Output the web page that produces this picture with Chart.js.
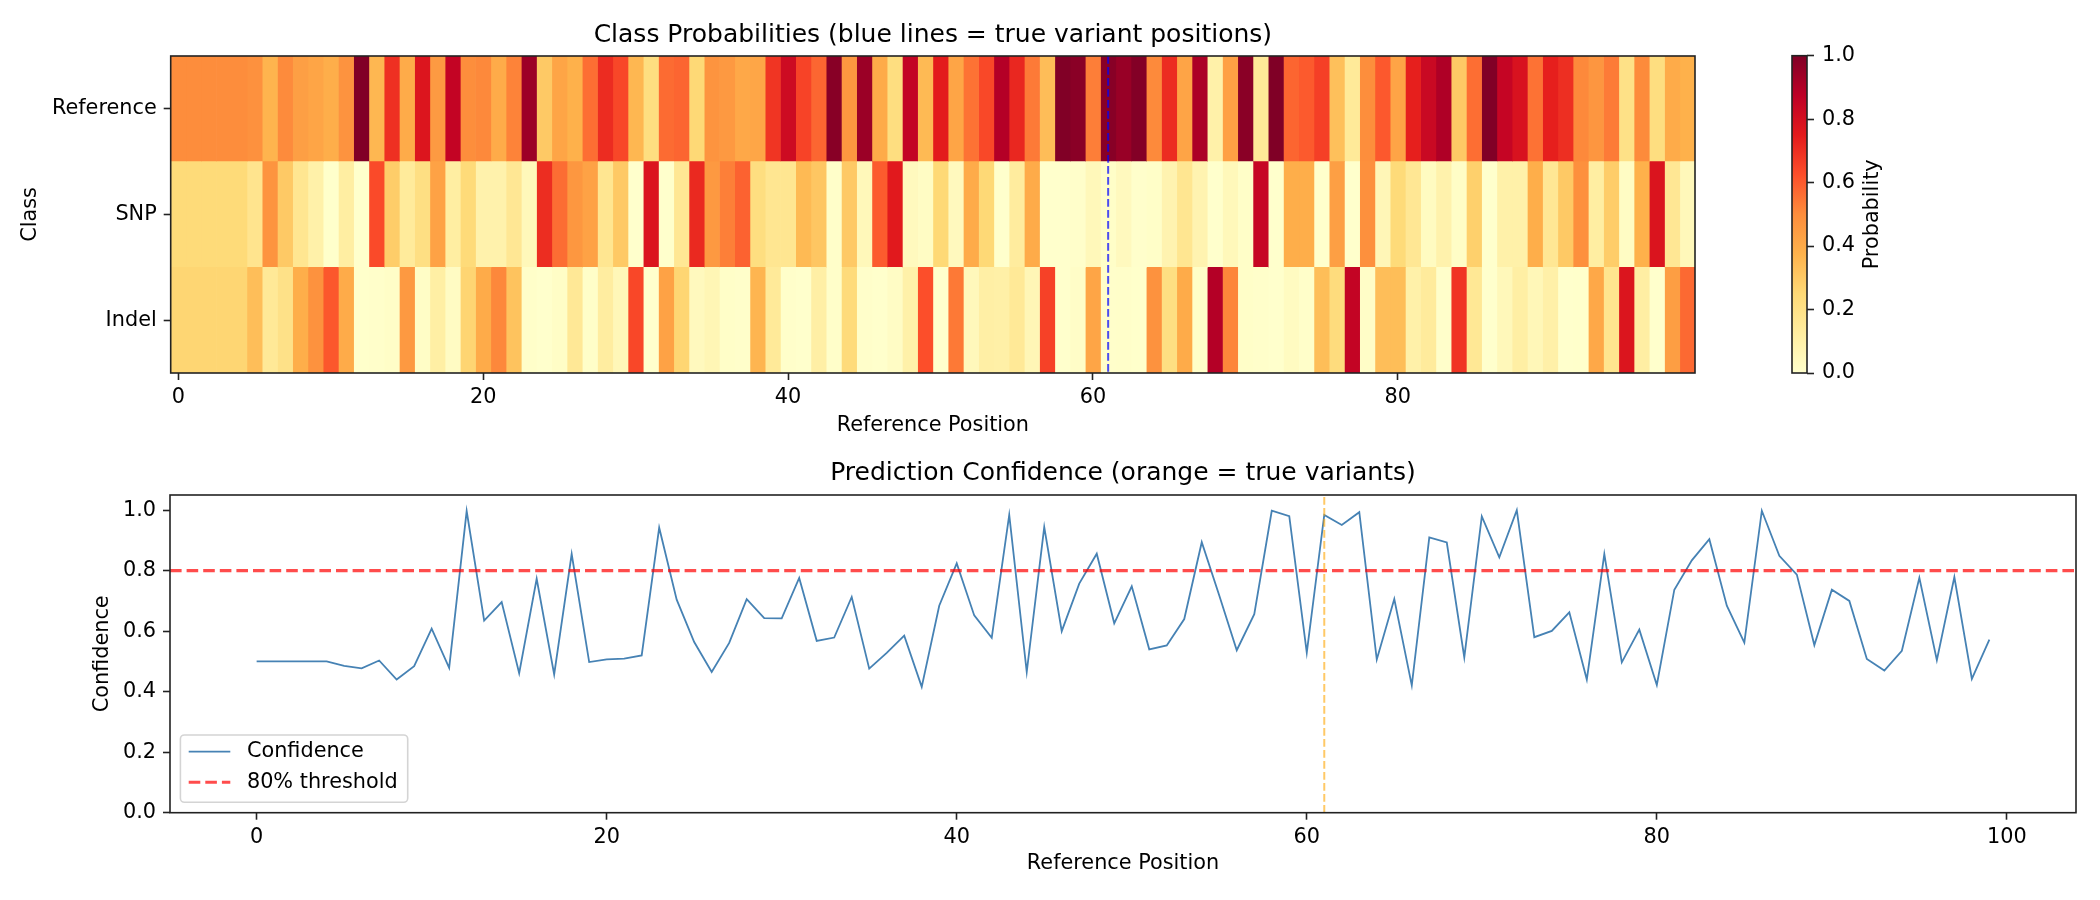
<!DOCTYPE html>
<html>
<head>
<meta charset="utf-8">
<script src="https://cdn.jsdelivr.net/npm/chart.js@4.4.0/dist/chart.umd.min.js"></script>
<style>
  body { margin: 0; background: #fff; }
  #wrap { position: relative; width: 2100px; height: 900px; }
  canvas { position: absolute; }
</style>
</head>
<body>
<div id="wrap">
  <canvas id="heat" width="1700" height="450" style="left:0;top:0"></canvas>
  <canvas id="cbar" width="300" height="450" style="left:1700px;top:0"></canvas>
  <canvas id="conf" width="2100" height="450" style="left:0;top:450px"></canvas>
</div>
<script>
// class probabilities per position
const classes = ['Reference', 'SNP', 'Indel'];

const refProb = [
  0.50, 0.50, 0.50, 0.50, 0.50, 0.485, 0.37, 0.503, 0.44, 0.42,
  0.39, 0.479, 0.997, 0.36, 0.696, 0.40, 0.773, 0.457, 0.855, 0.498,
  0.507, 0.40, 0.52, 0.942, 0.30, 0.42, 0.38, 0.561, 0.706, 0.643,
  0.36, 0.22, 0.568, 0.579, 0.25, 0.476, 0.46, 0.41, 0.416, 0.684,
  0.824, 0.652, 0.578, 0.984, 0.465, 0.944, 0.40, 0.22, 0.856, 0.35,
  0.748, 0.42, 0.553, 0.64, 0.894, 0.718, 0.537, 0.34, 0.998, 0.98,
  0.529, 0.984, 0.951, 0.993, 0.506, 0.706, 0.421, 0.91, 0.10, 0.437,
  0.979, 0.15, 1.0, 0.58, 0.601, 0.662, 0.33, 0.145, 0.497, 0.605,
  0.422, 0.737, 0.834, 0.904, 0.30, 0.562, 0.998, 0.849, 0.787, 0.554,
  0.737, 0.70, 0.508, 0.47, 0.535, 0.20, 0.504, 0.22, 0.40, 0.38
];
const snpProb = [
  0.24, 0.24, 0.24, 0.24, 0.24, 0.18, 0.477, 0.30, 0.17, 0.10,
  0.002, 0.12, 0.001, 0.635, 0.29, 0.14, 0.21, 0.43, 0.12, 0.24,
  0.09, 0.09, 0.16, 0.05, 0.704, 0.564, 0.465, 0.43, 0.17, 0.30,
  0.0, 0.776, 0.0, 0.16, 0.713, 0.46, 0.528, 0.585, 0.22, 0.17,
  0.17, 0.35, 0.31, 0.008, 0.30, 0.05, 0.60, 0.757, 0.04, 0.024,
  0.25, 0.04, 0.40, 0.25, 0.0, 0.13, 0.40, 0.0, 0.001, 0.005,
  0.05, 0.01, 0.04, 0.004, 0.01, 0.08, 0.17, 0.08, 0.0, 0.05,
  0.01, 0.844, 0.0, 0.39, 0.39, 0.0, 0.44, 0.0, 0.49, 0.06,
  0.24, 0.16, 0.03, 0.09, 0.016, 0.28, 0.001, 0.10, 0.10, 0.39,
  0.16, 0.30, 0.49, 0.12, 0.29, 0.024, 0.38, 0.779, 0.16, 0.05
];
const indelProb = [
  0.26, 0.26, 0.26, 0.26, 0.26, 0.335, 0.153, 0.197, 0.39, 0.484,
  0.608, 0.40, 0.002, 0.005, 0.014, 0.461, 0.017, 0.113, 0.025, 0.262,
  0.40, 0.509, 0.32, 0.008, 0.0, 0.016, 0.155, 0.01, 0.124, 0.057,
  0.642, 0.0, 0.43, 0.26, 0.04, 0.064, 0.01, 0.005, 0.364, 0.146,
  0.006, 0.0, 0.11, 0.008, 0.235, 0.006, 0.0, 0.02, 0.10, 0.626,
  0.0, 0.54, 0.047, 0.11, 0.106, 0.152, 0.063, 0.656, 0.001, 0.015,
  0.42, 0.006, 0.009, 0.003, 0.484, 0.214, 0.40, 0.01, 0.893, 0.513,
  0.01, 0.006, 0.0, 0.03, 0.009, 0.338, 0.23, 0.855, 0.013, 0.335,
  0.338, 0.10, 0.136, 0.006, 0.684, 0.158, 0.001, 0.05, 0.113, 0.056,
  0.103, 0.0, 0.002, 0.41, 0.175, 0.776, 0.116, 0.001, 0.442, 0.572
];

// prediction confidence
const confidence = [
  0.50, 0.50, 0.50, 0.50, 0.50, 0.485, 0.477, 0.503, 0.44, 0.484,
  0.608, 0.479, 0.997, 0.635, 0.696, 0.461, 0.773, 0.457, 0.855, 0.498,
  0.507, 0.509, 0.52, 0.942, 0.704, 0.564, 0.465, 0.561, 0.706, 0.643,
  0.642, 0.776, 0.568, 0.579, 0.713, 0.476, 0.528, 0.585, 0.416, 0.684,
  0.824, 0.652, 0.578, 0.984, 0.465, 0.944, 0.60, 0.757, 0.856, 0.626,
  0.748, 0.54, 0.553, 0.64, 0.894, 0.718, 0.537, 0.656, 0.998, 0.98,
  0.529, 0.984, 0.951, 0.993, 0.506, 0.706, 0.421, 0.91, 0.893, 0.513,
  0.979, 0.844, 1.0, 0.58, 0.601, 0.662, 0.44, 0.855, 0.497, 0.605,
  0.422, 0.737, 0.834, 0.904, 0.684, 0.562, 0.998, 0.849, 0.787, 0.554,
  0.737, 0.70, 0.508, 0.47, 0.535, 0.776, 0.504, 0.779, 0.442, 0.572
];

const positions = confidence.map((_, i) => i);
const trueVariants = [61];
const threshold = 0.8;

const heatXTicks = [0, 20, 40, 60, 80];
const confXTicks = [0, 20, 40, 60, 80, 100];
const confYTicks = [0.0, 0.2, 0.4, 0.6, 0.8, 1.0];
const cbarTicks = [0.0, 0.2, 0.4, 0.6, 0.8, 1.0];

// YlOrRd
const ylOrRdStops = ['#ffffcc', '#ffeda0', '#fed976', '#feb24c', '#fd8d3c', '#fc4e2a', '#e31a1c', '#bd0026', '#800026'];

function hexToRgb(h) {
  return [1, 3, 5].map(k => parseInt(h.slice(k, k + 2), 16));
}
function ylOrRd(v) {
  const n = ylOrRdStops.length - 1;
  const t = Math.min(Math.max(v, 0), 1) * n;
  const k = Math.min(Math.floor(t), n - 1);
  const f = t - k;
  const a = hexToRgb(ylOrRdStops[k]), b = hexToRgb(ylOrRdStops[k + 1]);
  return 'rgb(' + a.map((c, j) => Math.round(c + (b[j] - c) * f)).join(',') + ')';
}

Chart.defaults.font.family = "'DejaVu Sans', sans-serif";
Chart.defaults.font.size = 20.8;
Chart.defaults.color = '#000';
Chart.defaults.animation = false;

const tickGrid = {
  display: true, drawOnChartArea: false, drawTicks: true,
  tickLength: 7, tickWidth: 1.6, tickColor: '#222', offset: false
};

const frame = {
  id: 'frame',
  afterDraw(chart) {
    const { ctx, chartArea: a } = chart;
    ctx.save();
    ctx.strokeStyle = '#222';
    ctx.lineWidth = 1.6;
    ctx.strokeRect(a.left, a.top, a.right - a.left, a.bottom - a.top);
    ctx.restore();
  }
};

const variantLines = {
  id: 'variantLines',
  afterDatasetsDraw(chart) {
    const { ctx, chartArea: a, scales: { x } } = chart;
    ctx.save();
    ctx.strokeStyle = 'rgba(0,0,255,0.7)';
    ctx.lineWidth = 2;
    ctx.setLineDash([7.7, 3.3]);
    trueVariants.forEach(v => {
      const px = x.getPixelForValue(v);
      ctx.beginPath();
      ctx.moveTo(px, a.top);
      ctx.lineTo(px, a.bottom);
      ctx.stroke();
    });
    ctx.restore();
  }
};

// heatmap: one floating bar per cell
const probRows = [refProb, snpProb, indelProb];
const heatDatasets = positions.map(i => ({
  data: classes.map(() => [i - 0.5, i + 0.5]),
  backgroundColor: probRows.map(row => ylOrRd(row[i])),
  borderWidth: 0,
  barPercentage: 1,
  categoryPercentage: 1,
  grouped: false
}));

new Chart(document.getElementById('heat'), {
  type: 'bar',
  data: { labels: classes, datasets: heatDatasets },
  options: {
    indexAxis: 'y',
    responsive: false,
    events: [],
    layout: { padding: { left: 0, right: 5, top: 0, bottom: 0 } },
    plugins: {
      legend: { display: false },
      tooltip: { enabled: false },
      title: {
        display: true, fullSize: false,
        text: 'Class Probabilities (blue lines = true variant positions)',
        font: { size: 25, weight: 'normal' },
        padding: { top: 20, bottom: 6 }
      }
    },
    scales: {
      x: {
        type: 'linear', min: -0.5, max: 99.5,
        afterBuildTicks: s => { s.ticks = heatXTicks.map(v => ({ value: v })); },
        afterFit: s => { s.height = 77; },
        grid: tickGrid, border: { display: false },
        ticks: { padding: 5, maxRotation: 0 },
        title: { display: true, text: 'Reference Position', padding: { top: 0, bottom: 11.7 } }
      },
      y: {
        type: 'category', offset: true,
        afterFit: s => { s.width = 170.7; },
        grid: tickGrid, border: { display: false },
        ticks: { padding: 7 },
        title: { display: true, text: 'Class', padding: { top: 18.5, bottom: 0 } }
      }
    }
  },
  plugins: [variantLines, frame]
});

// colorbar
const cbarLabel = {
  id: 'cbarLabel',
  afterDraw(chart) {
    const { ctx, chartArea: a } = chart;
    ctx.save();
    ctx.translate(173, (a.top + a.bottom) / 2);
    ctx.rotate(-Math.PI / 2);
    ctx.font = "20.8px 'DejaVu Sans', sans-serif";
    ctx.fillStyle = '#000';
    ctx.textAlign = 'center';
    ctx.textBaseline = 'middle';
    ctx.fillText('Probability', 0, 0);
    ctx.restore();
  }
};

new Chart(document.getElementById('cbar'), {
  type: 'bar',
  data: {
    labels: [''],
    datasets: [{
      data: [[0, 1]],
      backgroundColor: c => {
        const a = c.chart.chartArea;
        if (!a) return ylOrRdStops[4];
        const g = c.chart.ctx.createLinearGradient(0, a.bottom, 0, a.top);
        ylOrRdStops.forEach((s, k) => g.addColorStop(k / (ylOrRdStops.length - 1), s));
        return g;
      },
      borderWidth: 0,
      barPercentage: 1,
      categoryPercentage: 1
    }]
  },
  options: {
    responsive: false,
    events: [],
    layout: { padding: { left: 92, right: 0, top: 55.7, bottom: 77 } },
    plugins: { legend: { display: false }, tooltip: { enabled: false } },
    scales: {
      x: { display: false },
      y: {
        position: 'right', min: 0, max: 1,
        afterBuildTicks: s => { s.ticks = cbarTicks.map(v => ({ value: v })); },
        afterFit: s => { s.width = 193; },
        grid: tickGrid, border: { display: false },
        ticks: { padding: 8, callback: v => v.toFixed(1) }
      }
    }
  },
  plugins: [frame, cbarLabel]
});

// confidence line plot
const confXMin = -4.95, confXMax = 103.95, confYMax = 1.05;

const confLegend = {
  id: 'confLegend',
  afterDraw(chart) {
    const { ctx, chartArea: a } = chart;
    const left = a.left + 10.4, bottom = a.bottom - 10.4;
    const w = 227.3, h = 67.3, top = bottom - h;
    ctx.save();
    ctx.beginPath();
    ctx.roundRect(left, top, w, h, 4);
    ctx.fillStyle = 'rgba(255,255,255,0.8)';
    ctx.fill();
    ctx.strokeStyle = '#d4d4d4';
    ctx.lineWidth = 1.6;
    ctx.stroke();
    ctx.font = "20.8px 'DejaVu Sans', sans-serif";
    ctx.textBaseline = 'middle';
    ctx.textAlign = 'left';
    chart.data.datasets.slice(0, 2).forEach((ds, k) => {
      const y = top + 16.7 + k * 30.6;
      ctx.beginPath();
      ctx.strokeStyle = ds.borderColor;
      ctx.lineWidth = ds.borderWidth;
      ctx.setLineDash(ds.borderDash || []);
      ctx.moveTo(left + 8.3, y);
      ctx.lineTo(left + 49.9, y);
      ctx.stroke();
      ctx.setLineDash([]);
      ctx.fillStyle = '#000';
      ctx.fillText(ds.label, left + 66.5, y);
    });
    ctx.restore();
  }
};

new Chart(document.getElementById('conf'), {
  type: 'line',
  data: {
    datasets: [
      {
        label: 'Confidence',
        data: positions.map((p, i) => ({ x: p, y: confidence[i] })),
        borderColor: '#4682b4', borderWidth: 1.8,
        pointRadius: 0, tension: 0, order: 3
      },
      {
        label: '80% threshold',
        data: [{ x: confXMin, y: threshold }, { x: confXMax, y: threshold }],
        borderColor: 'rgba(255,0,0,0.7)', borderWidth: 3.1, borderDash: [11.6, 5],
        pointRadius: 0, order: 2
      },
      ...trueVariants.map(v => ({
        label: 'true variant',
        data: [{ x: v, y: 0 }, { x: v, y: confYMax }],
        borderColor: 'rgba(255,165,0,0.6)', borderWidth: 2, borderDash: [7.7, 3.3],
        pointRadius: 0, order: 1
      }))
    ]
  },
  options: {
    responsive: false,
    events: [],
    layout: { padding: { left: 0, right: 24, top: 0, bottom: 0 } },
    plugins: {
      legend: { display: false },
      tooltip: { enabled: false },
      title: {
        display: true, fullSize: false,
        text: 'Prediction Confidence (orange = true variants)',
        font: { size: 25, weight: 'normal' },
        padding: { top: 8, bottom: 7 }
      }
    },
    scales: {
      x: {
        type: 'linear', min: confXMin, max: confXMax,
        afterBuildTicks: s => { s.ticks = confXTicks.map(v => ({ value: v })); },
        afterFit: s => { s.height = 87.3; },
        grid: tickGrid, border: { display: false },
        ticks: { padding: 5, maxRotation: 0 },
        title: { display: true, text: 'Reference Position', padding: { top: 0, bottom: 23.5 } }
      },
      y: {
        type: 'linear', min: 0, max: confYMax,
        afterBuildTicks: s => { s.ticks = confYTicks.map(v => ({ value: v })); },
        afterFit: s => { s.width = 170; },
        grid: tickGrid, border: { display: false },
        ticks: { padding: 7, callback: v => v.toFixed(1) },
        title: { display: true, text: 'Confidence', padding: { top: 90.5, bottom: 0 } }
      }
    }
  },
  plugins: [frame, confLegend]
});
</script>
</body>
</html>
